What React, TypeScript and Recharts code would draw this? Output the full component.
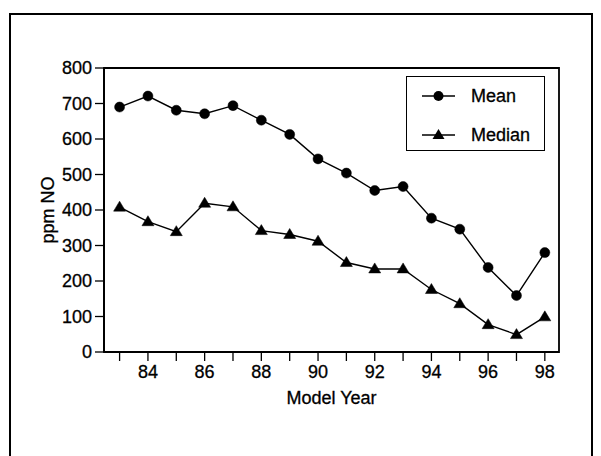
import React from 'react';
import { LineChart, Line, XAxis, YAxis, ReferenceArea, Legend } from 'recharts';

const years = [83, 84, 85, 86, 87, 88, 89, 90, 91, 92, 93, 94, 95, 96, 97, 98];
const meanValues = [690, 721, 681, 671, 694, 653, 613, 544, 504, 455, 466, 377, 346, 238, 159, 280];
const medianValues = [408, 367, 339, 419, 409, 342, 331, 312, 252, 234, 234, 176, 136, 77, 49, 99];
const yTicks = [0, 100, 200, 300, 400, 500, 600, 700, 800];
const xTickLabels = ['84', '86', '88', '90', '92', '94', '96', '98'];
const seriesNames = ['Mean', 'Median'];

const data = years.map((y, i) => ({ year: y, mean: meanValues[i], median: medianValues[i] }));

const FONT = '"Liberation Sans", Arial, Helvetica, sans-serif';
const X_MIN = 82.45;
const X_MAX = 98.5;

const Triangle = (props: any) => {
  const { cx, cy } = props;
  if (cx == null || cy == null) return null;
  return <polygon points={`${cx},${cy - 6} ${cx + 6},${cy + 4} ${cx - 6},${cy + 4}`} fill="#000" stroke="#000" strokeWidth={0.5} />;
};

const YLabel = (props: any) => {
  const vb = props.viewBox || {};
  const cy = vb.y + vb.height / 2;
  const x = 54;
  return (
    <text x={x} y={cy} transform={`rotate(-90, ${x}, ${cy})`} textAnchor="middle" fontFamily={FONT} fontSize={18} fill="#000" stroke="#000" strokeWidth={0.3}>
      ppm NO
    </text>
  );
};

const XLabel = (props: any) => {
  const vb = props.viewBox || {};
  return (
    <text x={vb.x + vb.width / 2} y={vb.y + 52} textAnchor="middle" fontFamily={FONT} fontSize={18} fill="#000" stroke="#000" strokeWidth={0.3}>
      Model Year
    </text>
  );
};

const LegendBox = () => (
  <div
    style={{
      width: 137,
      height: 73,
      border: '1.5px solid #000',
      background: '#fff',
      fontFamily: FONT,
      fontSize: 18,
      color: '#000',
      WebkitTextStroke: '0.3px #000',
      boxSizing: 'content-box',
      position: 'relative',
    }}
  >
    {seriesNames.map((name, i) => (
      <div key={name} style={{ position: 'absolute', left: 15, top: i === 0 ? 8 : 47, height: 22, display: 'flex', alignItems: 'center' }}>
        <svg width={34} height={16} style={{ display: 'block' }}>
          <line x1={0} y1={8} x2={33} y2={8} stroke="#000" strokeWidth={1.3} />
          {i === 0 ? (
            <circle cx={16.5} cy={8} r={5} fill="#000" />
          ) : (
            <polygon points="16.5,2 22.5,12 10.5,12" fill="#000" />
          )}
        </svg>
        <span style={{ marginLeft: 15, lineHeight: '22px' }}>{name}</span>
      </div>
    ))}
  </div>
);

export default function App() {
  return (
    <div style={{ position: 'relative', width: 601, height: 456, marginLeft: -8, marginTop: -8, overflow: 'hidden', background: '#fff' }}>
      <div
        style={{
          position: 'absolute',
          left: 9,
          top: 13,
          width: 580,
          height: 470,
          borderLeft: '2px solid #000',
          borderTop: '2px solid #000',
          borderRight: '2px solid #000',
        }}
      />
      <div style={{ position: 'absolute', left: 0, top: 0 }}>
        <LineChart width={601} height={456} data={data} margin={{ top: 68, right: 42, bottom: 64, left: 44 }}>
          <XAxis
            dataKey="year"
            type="number"
            domain={[X_MIN, X_MAX]}
            allowDataOverflow
            ticks={years}
            interval={0}
            tickFormatter={(v: number) => (xTickLabels.includes(String(v)) ? String(v) : '')}
            height={40}
            tickSize={9}
            tickMargin={4}
            axisLine={{ stroke: '#000', strokeWidth: 2 }}
            tickLine={{ stroke: '#000', strokeWidth: 1.3 }}
            tick={{ fill: '#000', fontSize: 18, fontFamily: FONT, stroke: '#000', strokeWidth: 0.3 }}
            label={<XLabel />}
          />
          <YAxis
            type="number"
            domain={[0, 800]}
            ticks={yTicks}
            interval={0}
            width={60}
            tickSize={9}
            tickMargin={3}
            axisLine={{ stroke: '#000', strokeWidth: 2 }}
            tickLine={{ stroke: '#000', strokeWidth: 1.3 }}
            tick={{ fill: '#000', fontSize: 18, fontFamily: FONT, stroke: '#000', strokeWidth: 0.3 }}
            label={<YLabel />}
          />
          <ReferenceArea x1={X_MIN} x2={X_MAX} y1={0} y2={800} fill="none" stroke="#000" strokeWidth={1.8} ifOverflow="visible" />
          <Line
            type="linear"
            dataKey="mean"
            name={seriesNames[0]}
            stroke="#000"
            strokeWidth={1.4}
            dot={{ r: 5, fill: '#000', stroke: '#000', strokeWidth: 0.5 }}
            isAnimationActive={false}
          />
          <Line
            type="linear"
            dataKey="median"
            name={seriesNames[1]}
            stroke="#000"
            strokeWidth={1.4}
            dot={<Triangle />}
            isAnimationActive={false}
          />
          <Legend
            layout="vertical"
            align="center"
            verticalAlign="middle"
            content={<LegendBox />}
            wrapperStyle={{ left: 406, top: 76, width: 140, height: 76 }}
          />
        </LineChart>
      </div>
    </div>
  );
}
